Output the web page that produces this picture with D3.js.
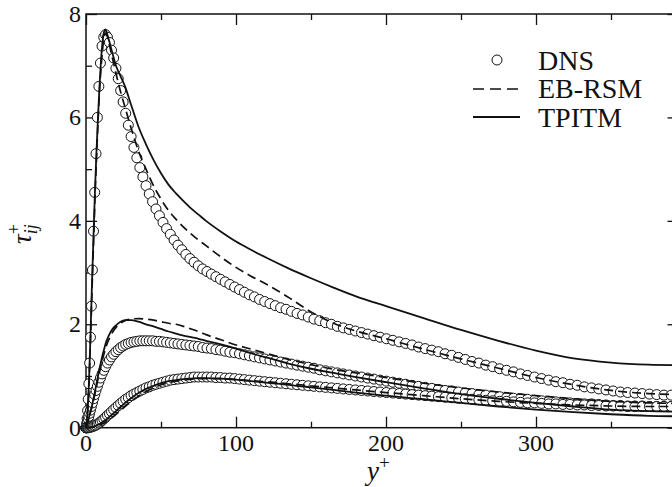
<!DOCTYPE html>
<html>
<head>
<meta charset="utf-8">
<script src="https://cdn.jsdelivr.net/npm/d3@7"></script>
</head>
<body style="margin:0">
<svg id="chart" width="672" height="487"></svg>
<script>
// DNS grid (wall-normal positions, y+)
const yPlus = [
  0, 0.03, 0.12, 0.27, 0.48, 0.74, 1.07, 1.46, 1.90, 2.41,
  2.97, 3.59, 4.28, 5.02, 5.82, 6.67, 7.59, 8.57, 9.60, 10.69,
  11.84, 13.04, 14.31, 15.63, 17.01, 18.44, 19.94, 21.49, 23.09, 24.75,
  26.47, 28.24, 30.07, 31.95, 33.89, 35.88, 37.92, 40.02, 42.18, 44.38,
  46.64, 48.95, 51.32, 53.73, 56.20, 58.71, 61.28, 63.90, 66.57, 69.29,
  72.05, 74.87, 77.73, 80.65, 83.60, 86.61, 89.66, 92.76, 95.90, 99.09,
  102.32, 105.60, 108.92, 112.29, 115.69, 119.14, 122.63, 126.16, 129.73, 133.35,
  137.00, 140.69, 144.41, 148.18, 151.98, 155.82, 159.70, 163.61, 167.56, 171.54,
  175.55, 179.60, 183.68, 187.79, 191.93, 196.10, 200.30, 204.54, 208.80, 213.09,
  217.40, 221.75, 226.12, 230.51, 234.93, 239.37, 243.84, 248.33, 252.84, 257.37,
  261.93, 266.50, 271.10, 275.71, 280.34, 284.98, 289.65, 294.33, 299.02, 303.73,
  308.46, 313.19, 317.94, 322.70, 327.47, 332.25, 337.04, 341.84, 346.65, 351.46,
  356.28, 361.11, 365.94, 370.78, 375.62, 380.46, 385.31, 390.15, 395.00
];
const dnsUU = [
  0, 0, 0.01, 0.03, 0.08, 0.18, 0.33, 0.55, 0.85, 1.25,
  1.75, 2.35, 3.05, 3.8, 4.55, 5.3, 6.0, 6.6, 7.05, 7.38,
  7.55, 7.6, 7.55, 7.45, 7.3, 7.15, 6.95, 6.75, 6.52, 6.3,
  6.08, 5.85, 5.63, 5.42, 5.22, 5.03, 4.85, 4.68, 4.52, 4.37,
  4.23, 4.1, 3.97, 3.85, 3.74, 3.63, 3.53, 3.44, 3.35, 3.27,
  3.2, 3.13, 3.07, 3.02, 2.97, 2.92, 2.87, 2.82, 2.77, 2.72,
  2.67, 2.62, 2.57, 2.53, 2.48, 2.44, 2.4, 2.36, 2.32, 2.29,
  2.25, 2.21, 2.18, 2.14, 2.1, 2.07, 2.03, 2.0, 1.96, 1.93,
  1.9, 1.87, 1.84, 1.81, 1.78, 1.75, 1.72, 1.69, 1.66, 1.63,
  1.6, 1.56, 1.53, 1.5, 1.47, 1.43, 1.4, 1.36, 1.32, 1.28,
  1.25, 1.21, 1.18, 1.14, 1.11, 1.08, 1.04, 1.01, 0.98, 0.95,
  0.92, 0.89, 0.87, 0.84, 0.82, 0.79, 0.77, 0.75, 0.73, 0.71,
  0.69, 0.68, 0.67, 0.66, 0.65, 0.64, 0.63, 0.63, 0.63
];
const dnsWW = [
  0, 0, 0.01, 0.02, 0.05, 0.08, 0.12, 0.17, 0.22, 0.28,
  0.34, 0.41, 0.48, 0.56, 0.64, 0.72, 0.8, 0.88, 0.96, 1.04,
  1.11, 1.18, 1.25, 1.31, 1.37, 1.42, 1.47, 1.51, 1.55, 1.58,
  1.61, 1.63, 1.65, 1.66, 1.67, 1.68, 1.68, 1.68, 1.68, 1.68,
  1.67, 1.67, 1.66, 1.65, 1.64, 1.63, 1.62, 1.61, 1.6, 1.59,
  1.58, 1.57, 1.55, 1.54, 1.53, 1.51, 1.5, 1.48, 1.46, 1.45,
  1.43, 1.41, 1.39, 1.37, 1.35, 1.33, 1.31, 1.29, 1.27, 1.25,
  1.23, 1.21, 1.19, 1.17, 1.15, 1.12, 1.1, 1.08, 1.06, 1.04,
  1.02, 1.0, 0.98, 0.96, 0.94, 0.92, 0.9, 0.88, 0.86, 0.84,
  0.82, 0.8, 0.78, 0.76, 0.74, 0.72, 0.71, 0.69, 0.67, 0.66,
  0.64, 0.63, 0.61, 0.6, 0.58, 0.57, 0.56, 0.55, 0.53, 0.52,
  0.51, 0.5, 0.49, 0.48, 0.47, 0.46, 0.46, 0.45, 0.44, 0.43,
  0.43, 0.42, 0.42, 0.42, 0.41, 0.41, 0.41, 0.41, 0.41
];
const dnsVV = [
  0, 0, 0, 0, 0, 0, 0, 0, 0, 0.01,
  0.01, 0.02, 0.02, 0.03, 0.04, 0.05, 0.07, 0.09, 0.11, 0.14,
  0.17, 0.2, 0.24, 0.27, 0.31, 0.35, 0.39, 0.43, 0.47, 0.51,
  0.55, 0.58, 0.62, 0.65, 0.68, 0.71, 0.74, 0.77, 0.79, 0.82,
  0.84, 0.86, 0.88, 0.9, 0.92, 0.93, 0.94, 0.95, 0.96, 0.97,
  0.98, 0.98, 0.98, 0.98, 0.98, 0.97, 0.97, 0.96, 0.96, 0.95,
  0.94, 0.93, 0.92, 0.91, 0.9, 0.89, 0.88, 0.87, 0.86, 0.85,
  0.84, 0.83, 0.82, 0.81, 0.8, 0.79, 0.78, 0.77, 0.76, 0.75,
  0.74, 0.73, 0.72, 0.71, 0.7, 0.69, 0.68, 0.67, 0.66, 0.65,
  0.64, 0.63, 0.62, 0.61, 0.6, 0.59, 0.58, 0.57, 0.56, 0.55,
  0.54, 0.53, 0.52, 0.51, 0.51, 0.5, 0.49, 0.48, 0.48, 0.47,
  0.46, 0.46, 0.45, 0.45, 0.44, 0.44, 0.43, 0.43, 0.42, 0.42,
  0.42, 0.41, 0.41, 0.41, 0.41, 0.41, 0.41, 0.41, 0.41
];

// model grid (y+)
const modelY = [
  0, 1, 2, 3, 4, 5, 6, 7, 8, 9, 10, 11, 12, 13, 14, 16, 18, 20, 23, 26,
  30, 35, 40, 45, 50, 55, 60, 65, 70, 75, 80, 90, 100, 110, 120, 135, 150, 165, 180, 200,
  225, 250, 275, 300, 325, 350, 375, 395
];
const tpitmUU = [
  0, 0.3, 0.9, 1.8, 2.8, 3.7, 4.6, 5.35, 6.0, 6.6, 7.1, 7.45, 7.65, 7.7, 7.62, 7.42, 7.2, 7.0, 6.8, 6.6,
  6.25, 5.82, 5.48, 5.18, 4.92, 4.7, 4.53, 4.38, 4.24, 4.12, 4.0, 3.79, 3.6, 3.44, 3.29, 3.08, 2.89, 2.71, 2.54, 2.35,
  2.12, 1.89, 1.68, 1.49, 1.34, 1.26, 1.22, 1.21
];
const ebrsmUU = [
  0, 0.28, 0.85, 1.7, 2.65, 3.55, 4.45, 5.2, 5.9, 6.5, 6.95, 7.3, 7.55, 7.62, 7.58, 7.35, 7.1, 6.85, 6.5, 6.2,
  5.8, 5.35, 5.0, 4.68, 4.42, 4.2, 4.03, 3.88, 3.75, 3.63, 3.52, 3.3, 3.1, 2.93, 2.78, 2.52, 2.24, 2.02, 1.87, 1.72,
  1.52, 1.33, 1.15, 0.97, 0.83, 0.72, 0.66, 0.64
];
const tpitmWW = [
  0, 0.1, 0.2, 0.32, 0.43, 0.56, 0.7, 0.85, 1.0, 1.14, 1.27, 1.4, 1.51, 1.62, 1.7, 1.83, 1.92, 1.98, 2.05, 2.08,
  2.08, 2.05, 2.0, 1.96, 1.91, 1.86, 1.82, 1.78, 1.75, 1.72, 1.68, 1.61, 1.53, 1.44, 1.36, 1.24, 1.14, 1.06, 0.98, 0.88,
  0.76, 0.65, 0.56, 0.48, 0.41, 0.35, 0.32, 0.31
];
const ebrsmWW = [
  0, 0.09, 0.19, 0.3, 0.41, 0.53, 0.66, 0.8, 0.94, 1.07, 1.2, 1.32, 1.43, 1.53, 1.62, 1.75, 1.86, 1.94, 2.02, 2.07,
  2.1, 2.11, 2.1, 2.08, 2.05, 2.02, 2.0, 1.96, 1.91, 1.86, 1.8, 1.7, 1.6, 1.52, 1.44, 1.32, 1.22, 1.13, 1.06, 0.97,
  0.86, 0.77, 0.69, 0.62, 0.56, 0.51, 0.48, 0.47
];
const tpitmVV = [
  0, 0, 0, 0.01, 0.01, 0.02, 0.03, 0.04, 0.06, 0.07, 0.09, 0.11, 0.13, 0.15, 0.17, 0.22, 0.27, 0.32, 0.4, 0.48,
  0.57, 0.67, 0.75, 0.81, 0.86, 0.9, 0.92, 0.94, 0.95, 0.96, 0.96, 0.95, 0.93, 0.9, 0.87, 0.83, 0.78, 0.73, 0.68, 0.62,
  0.55, 0.48, 0.41, 0.35, 0.3, 0.26, 0.23, 0.22
];
const ebrsmVV = [
  0, 0, 0, 0, 0.01, 0.01, 0.02, 0.03, 0.04, 0.05, 0.06, 0.08, 0.09, 0.11, 0.13, 0.17, 0.21, 0.26, 0.33, 0.41,
  0.5, 0.61, 0.7, 0.77, 0.83, 0.87, 0.9, 0.92, 0.94, 0.95, 0.95, 0.95, 0.93, 0.91, 0.89, 0.85, 0.81, 0.77, 0.73, 0.68,
  0.62, 0.56, 0.51, 0.47, 0.44, 0.42, 0.41, 0.41
];

const xMajor = [0, 100, 200, 300];
const xMinor = [50, 150, 250, 350];
const yMajor = [0, 2, 4, 6, 8];
const yMinor = [1, 3, 5, 7];
const legendItems = ["DNS", "EB-RSM", "TPITM"];

const ink = "#111";
const serif = size => `font-family:'Liberation Serif','Times New Roman',serif;font-size:${size}px`;

const svg = d3.select("#chart");

const x = d3.scaleLinear().domain([0, 395]).range([86, 678.5]);
const y = d3.scaleLinear().domain([0, 8]).range([427.7, 14]);

// frame
svg.append("rect")
  .attr("x", x(0)).attr("y", y(8))
  .attr("width", x(395) - x(0)).attr("height", y(0) - y(8))
  .attr("fill", "none").attr("stroke", ink).attr("stroke-width", 1.5);

// inward ticks on all four sides
function ticks(axis, transform) {
  svg.append("g").attr("transform", transform)
    .call(axis.tickFormat(""))
    .call(g => g.select(".domain").remove())
    .call(g => g.selectAll("line").attr("stroke", ink).attr("stroke-width", 1.3));
}
ticks(d3.axisBottom(x).tickValues(xMajor).tickSize(-11), `translate(0,${y(0)})`);
ticks(d3.axisBottom(x).tickValues(xMinor).tickSize(-6), `translate(0,${y(0)})`);
ticks(d3.axisTop(x).tickValues(xMajor).tickSize(-11), `translate(0,${y(8)})`);
ticks(d3.axisTop(x).tickValues(xMinor).tickSize(-6), `translate(0,${y(8)})`);
ticks(d3.axisLeft(y).tickValues(yMajor).tickSize(-11), `translate(${x(0)},0)`);
ticks(d3.axisLeft(y).tickValues(yMinor).tickSize(-6), `translate(${x(0)},0)`);
ticks(d3.axisRight(y).tickValues(yMajor).tickSize(-11), `translate(${x(395)},0)`);
ticks(d3.axisRight(y).tickValues(yMinor).tickSize(-6), `translate(${x(395)},0)`);

// tick labels
svg.selectAll("text.xl").data(xMajor).enter().append("text")
  .attr("class", "xl")
  .attr("x", d => x(d)).attr("y", y(0) + 23)
  .attr("text-anchor", "middle").attr("fill", ink)
  .attr("style", serif(24))
  .text(d => d);
svg.selectAll("text.yl").data(yMajor).enter().append("text")
  .attr("class", "yl")
  .attr("x", x(0) - 5).attr("y", d => y(d) + 8)
  .attr("text-anchor", "end").attr("fill", ink)
  .attr("style", serif(24))
  .text(d => d);

// DNS circles
[dnsUU, dnsWW, dnsVV].forEach(vals => {
  svg.append("g")
    .selectAll("circle")
    .data(d3.zip(yPlus, vals))
    .enter().append("circle")
    .attr("cx", d => x(d[0]))
    .attr("cy", d => y(d[1]))
    .attr("r", 5)
    .attr("fill", "#fff")
    .attr("stroke", ink)
    .attr("stroke-width", 1);
});

// model lines
const line = d3.line()
  .x(d => x(d[0]))
  .y(d => y(d[1]))
  .curve(d3.curveMonotoneX);

[ebrsmUU, ebrsmWW, ebrsmVV].forEach(vals => {
  svg.append("path")
    .attr("d", line(d3.zip(modelY, vals)))
    .attr("fill", "none").attr("stroke", ink)
    .attr("stroke-width", 1.7).attr("stroke-dasharray", "9,5");
});
[tpitmUU, tpitmWW, tpitmVV].forEach(vals => {
  svg.append("path")
    .attr("d", line(d3.zip(modelY, vals)))
    .attr("fill", "none").attr("stroke", ink)
    .attr("stroke-width", 1.8);
});

// axis titles
const xt = svg.append("text")
  .attr("x", 367).attr("y", 480)
  .attr("fill", ink).attr("style", serif(27));
xt.append("tspan").attr("font-style", "italic").text("y");
xt.append("tspan").attr("dy", -11).attr("style", "font-size:19px").text("+");

const yt = svg.append("text")
  .attr("transform", "translate(31,244) rotate(-90)")
  .attr("fill", ink).attr("style", serif(27));
yt.append("tspan").attr("font-style", "italic").text("τ");
yt.append("tspan").attr("dy", 6).attr("font-style", "italic").attr("style", "font-size:18px").text("ij");
yt.append("tspan").attr("dx", -10).attr("dy", -17).attr("style", "font-size:18px").text("+");

// legend
svg.append("circle").attr("cx", 497).attr("cy", 60).attr("r", 5)
  .attr("fill", "#fff").attr("stroke", ink).attr("stroke-width", 1);
svg.append("line").attr("x1", 473).attr("x2", 520).attr("y1", 89).attr("y2", 89)
  .attr("stroke", ink).attr("stroke-width", 1.7).attr("stroke-dasharray", "11,6");
svg.append("line").attr("x1", 473).attr("x2", 520).attr("y1", 117).attr("y2", 117)
  .attr("stroke", ink).attr("stroke-width", 1.8);
svg.selectAll("text.lab")
  .data(legendItems)
  .enter().append("text")
  .attr("class", "lab")
  .attr("x", 538)
  .attr("y", (d, i) => 69.5 + i * 28.5)
  .attr("fill", ink)
  .attr("style", serif(28))
  .text(d => d);
</script>
</body>
</html>
